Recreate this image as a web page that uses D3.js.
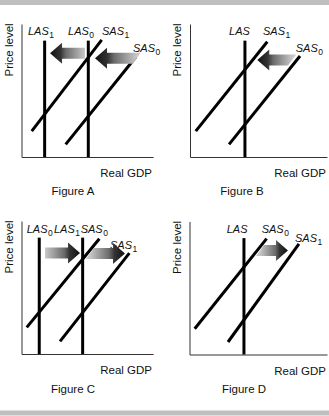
<!DOCTYPE html>
<html>
<head>
<meta charset="utf-8">
<script src="https://cdn.jsdelivr.net/npm/d3@7"></script>
<style>
  html, body { margin: 0; padding: 0; background: #fff; }
  svg { display: block; }
  text { font-family: "Liberation Sans", Arial, sans-serif; fill: #111; }
</style>
</head>
<body>
<script>
// ---- Data (each panel uses abstract 0–10 units on both axes) ----
const figureNames = ["Figure A", "Figure B", "Figure C", "Figure D"];

// Long-run aggregate supply: vertical lines at a given real GDP level
const lasCurves = [
  [{ name: "LAS", sub: "1", x: 1.76 }, { name: "LAS", sub: "0", x: 5.08 }],
  [{ name: "LAS", sub: "",  x: 4.01 }],
  [{ name: "LAS", sub: "0", x: 1.35 }, { name: "LAS", sub: "1", x: 4.65 }],
  [{ name: "LAS", sub: "",  x: 3.96 }]
];
const lasTop = 8.75;

// Short-run aggregate supply: upward-sloping segments
const sasCurves = [
  [{ name: "SAS", sub: "1", x0: 0.78, y0: 1.95, x1: 6.10, y1: 8.80 },
   { name: "SAS", sub: "0", x0: 3.36, y0: 0.95, x1: 8.71, y1: 7.54 }],
  [{ name: "SAS", sub: "1", x0: 0.42, y0: 1.95, x1: 5.64, y1: 8.67 },
   { name: "SAS", sub: "0", x0: 2.85, y0: 0.95, x1: 8.03, y1: 7.59 }],
  [{ name: "SAS", sub: "0", x0: 0.40, y0: 2.00, x1: 5.92, y1: 8.67 },
   { name: "SAS", sub: "1", x0: 2.93, y0: 0.95, x1: 8.20, y1: 7.59 }],
  [{ name: "SAS", sub: "0", x0: 0.38, y0: 1.94, x1: 5.61, y1: 8.71 },
   { name: "SAS", sub: "1", x0: 2.80, y0: 0.94, x1: 7.96, y1: 8.31 }]
];

// Shift arrows: from (tail) -> to (tip) along real GDP, at a price level
const shifts = [
  [{ from: 4.83, to: 2.17, y: 7.80 }, { from: 8.76, to: 5.59, y: 7.42 }],
  [{ from: 7.45, to: 4.91, y: 7.29 }],
  [{ from: 1.79, to: 4.45, y: 7.59 }, { from: 5.21, to: 7.87, y: 7.56 }],
  [{ from: 5.13, to: 7.16, y: 7.82 }]
];

const axisTitles = { x: "Real GDP", y: "Price level" };

// ---- Layout ----
const W = 329, H = 416;
const frames = [
  { left: 21.5,  right: 153, top: 24,    bottom: 157,   capX: 73,  capY: 195 },
  { left: 190,   right: 327, top: 24,    bottom: 157,   capX: 242, capY: 195 },
  { left: 21.5,  right: 153, top: 221,   bottom: 354,   capX: 73,  capY: 393 },
  { left: 189.5, right: 327, top: 221.5, bottom: 354.5, capX: 244, capY: 393 }
];
// Curve label anchors (start x, baseline y) in panel units
const lasLabelAt = [
  [[0.49, 9.17], [3.54, 9.17]],
  [[2.85, 9.17]],
  [[0.40, 9.10], [2.47, 9.10]],
  [[2.71, 9.14]]
];
const sasLabelAt = [
  [[6.12, 9.17], [8.48, 7.89]],
  [[5.33, 9.17], [7.72, 7.92]],
  [[4.50, 9.10], [6.73, 7.92]],
  [[5.25, 9.14], [7.67, 8.46]]
];
// Tail cut of each arrow (px the top corner leans right), to sit parallel to SAS
const tailSlant = [[0, 8], [8], [0, 8], [8]];

const svg = d3.select("body").append("svg")
  .attr("width", W).attr("height", H);

// Grey bands at top and bottom
svg.append("rect").attr("x", 0).attr("y", 0).attr("width", W).attr("height", 5).attr("fill", "#bfbfbf");
svg.append("rect").attr("x", 0).attr("y", 410.5).attr("width", W).attr("height", 5).attr("fill", "#bfbfbf");

const defs = svg.append("defs");

function labelText(g, x, y, name, sub) {
  const t = g.append("text").attr("x", x).attr("y", y)
    .attr("font-size", 11).attr("font-style", "italic");
  t.append("tspan").text(name);
  if (sub) {
    t.append("tspan").attr("font-size", 8.5).attr("font-style", "normal")
      .attr("dy", 3).attr("dx", 0.5).text(sub);
  }
}

frames.forEach((f, i) => {
  const g = svg.append("g");
  const x = d3.scaleLinear().domain([0, 10]).range([f.left, f.right]);
  const y = d3.scaleLinear().domain([0, 10]).range([f.bottom, f.top]);

  // Axes: plain lines without ticks
  g.append("g").attr("transform", `translate(0,${f.bottom})`)
    .call(d3.axisBottom(x).tickValues([]).tickSizeOuter(0))
    .select(".domain").attr("stroke", "#333").attr("stroke-width", 1);
  g.append("g").attr("transform", `translate(${f.left},0)`)
    .call(d3.axisLeft(y).tickValues([]).tickSizeOuter(0))
    .select(".domain").attr("stroke", "#333").attr("stroke-width", 1);

  // Axis titles
  g.append("text").attr("x", x(10) - 1).attr("y", f.bottom + 20)
    .attr("text-anchor", "end").attr("font-size", 11.5).text(axisTitles.x);
  g.append("text")
    .attr("transform", `translate(${f.left - 9},${y(8.05)}) rotate(-90)`)
    .attr("text-anchor", "middle").attr("font-size", 11.5).text(axisTitles.y);

  // Caption
  g.append("text").attr("x", f.capX).attr("y", f.capY)
    .attr("text-anchor", "middle").attr("font-size", 11.5).text(figureNames[i]);

  // LAS lines
  lasCurves[i].forEach((c, j) => {
    g.append("line")
      .attr("x1", x(c.x)).attr("x2", x(c.x))
      .attr("y1", y(0)).attr("y2", y(lasTop))
      .attr("stroke", "#000").attr("stroke-width", 3);
    const [lx, ly] = lasLabelAt[i][j];
    labelText(g, x(lx), y(ly), c.name, c.sub);
  });

  // SAS lines
  sasCurves[i].forEach((c, j) => {
    g.append("line")
      .attr("x1", x(c.x0)).attr("y1", y(c.y0))
      .attr("x2", x(c.x1)).attr("y2", y(c.y1))
      .attr("stroke", "#000").attr("stroke-width", 3);
    const [lx, ly] = sasLabelAt[i][j];
    labelText(g, x(lx), y(ly), c.name, c.sub);
  });

  // Shift arrows with a light-to-dark gradient toward the head
  shifts[i].forEach((s, j) => {
    const tx = x(s.from), hx = x(s.to), cy = y(s.y);
    const dir = hx > tx ? 1 : -1;
    const headLen = 12, bodyHalf = 5.5, headHalf = 10.5;
    const baseX = hx - dir * headLen;
    const sl = tailSlant[i][j] / 2;
    const id = `grad-${i}-${j}`;
    const grad = defs.append("linearGradient").attr("id", id)
      .attr("gradientUnits", "userSpaceOnUse")
      .attr("x1", tx).attr("y1", cy).attr("x2", hx).attr("y2", cy);
    grad.append("stop").attr("offset", 0).attr("stop-color", "#c8c8c8");
    grad.append("stop").attr("offset", 0.55).attr("stop-color", "#6a6a6a");
    grad.append("stop").attr("offset", 0.7).attr("stop-color", "#333");
    grad.append("stop").attr("offset", 1).attr("stop-color", "#111");
    const pts = [
      [tx + sl, cy - bodyHalf],
      [baseX, cy - bodyHalf],
      [baseX, cy - headHalf],
      [hx, cy],
      [baseX, cy + headHalf],
      [baseX, cy + bodyHalf],
      [tx - sl, cy + bodyHalf]
    ];
    g.append("path").attr("d", d3.line()(pts) + "Z").attr("fill", `url(#${id})`);
  });
});
</script>
</body>
</html>
